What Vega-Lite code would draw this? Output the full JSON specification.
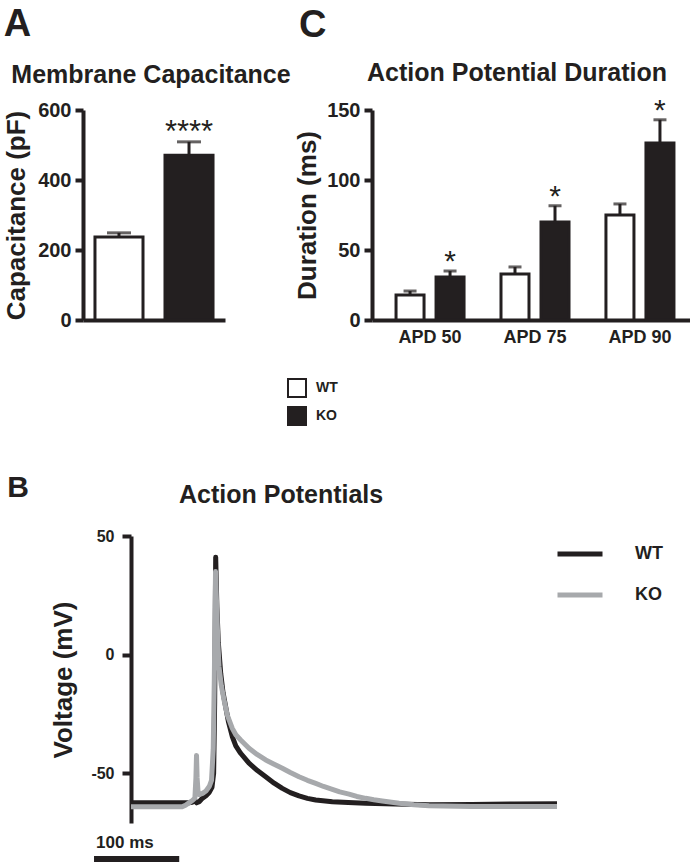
{
 "$schema": "https://vega.github.io/schema/vega-lite/v6.json",
 "background": "white",
 "padding": {"left": 3, "top": 6, "right": 0, "bottom": 0},
 "config": {
  "font": "Liberation Sans",
  "view": {"stroke": null},
  "axis": {"grid": false, "domainColor": "#231f20", "domainWidth": 4, "tickColor": "#231f20", "tickWidth": 4, "tickSize": 8, "labelColor": "#231f20", "labelFontWeight": "bold", "titleColor": "#231f20", "titleFontWeight": "bold", "labelFont": "Liberation Sans", "titleFont": "Liberation Sans"},
  "title": {"font": "Liberation Sans", "fontWeight": "bold", "color": "#231f20", "baseline": "alphabetic"},
  "legend": {"labelFont": "Liberation Sans", "labelFontWeight": "bold", "labelColor": "#231f20"}
 },
 "spacing": 44,
 "resolve": {"scale": {"color": "independent", "fill": "independent"}, "legend": {"color": "independent", "fill": "independent"}},
 "vconcat": [
  {
   "hconcat": [
    {
     "title": {"text": "A", "fontSize": 38, "anchor": "start", "offset": 19},
     "resolve": {"scale": {"fill": "independent"}, "legend": {"fill": "independent"}},
     "vconcat": [{
      "title": {"text": "Membrane Capacitance", "fontSize": 25, "anchor": "middle", "frame": "group", "dx": -3, "offset": 12},
      "width": 142, "height": 210,
      "data": {"values": [
       {"genotype": "WT", "mean": 237, "upper": 249, "star": ""},
       {"genotype": "KO", "mean": 471, "upper": 509, "star": "****"}
      ]},
      "encoding": {
       "x": {"field": "genotype", "type": "nominal", "sort": ["WT", "KO"], "scale": {"paddingInner": 0.314, "paddingOuter": 0.171}, "axis": {"labels": false, "ticks": false, "title": null}}
      },
      "layer": [
       {"mark": {"type": "bar", "stroke": "#231f20", "strokeWidth": 3},
        "encoding": {
         "y": {"field": "mean", "type": "quantitative", "scale": {"domain": [0, 600], "nice": false}, "axis": {"values": [0, 200, 400, 600], "title": "Capacitance (pF)", "labelFontSize": 20, "titleFontSize": 26, "labelPadding": 4, "titlePadding": 8}},
         "fill": {"field": "genotype", "type": "nominal", "scale": {"domain": ["WT", "KO"], "range": ["#ffffff", "#231f20"]}, "legend": null}
        }},
       {"mark": {"type": "rule", "color": "#231f20", "strokeWidth": 3},
        "encoding": {"y": {"field": "mean", "type": "quantitative"}, "y2": {"field": "upper"}}},
       {"mark": {"type": "tick", "orient": "horizontal", "color": "#231f20", "size": 24, "thickness": 3},
        "encoding": {"y": {"field": "upper", "type": "quantitative"}}},
       {"mark": {"type": "text", "fontSize": 31, "baseline": "alphabetic", "color": "#231f20", "font": "Liberation Sans"},
        "encoding": {"y": {"field": "upper", "type": "quantitative"}, "text": {"field": "star"}}}
      ]
     }]
    },
    {
     "title": {"text": "C", "fontSize": 38, "anchor": "start", "offset": 16, "dx": 12},
     "resolve": {"scale": {"fill": "independent"}, "legend": {"fill": "independent"}},
     "vconcat": [{
      "title": {"text": "Action Potential Duration", "fontSize": 25, "anchor": "middle", "frame": "group", "dx": -18, "offset": 10},
      "width": 326, "height": 210,
      "data": {"values": [
       {"apd": "APD 50", "genotype": "WT", "mean": 17.9, "upper": 20.7, "star": ""},
       {"apd": "APD 50", "genotype": "KO", "mean": 30.7, "upper": 35, "star": "*"},
       {"apd": "APD 75", "genotype": "WT", "mean": 32.9, "upper": 37.9, "star": ""},
       {"apd": "APD 75", "genotype": "KO", "mean": 70, "upper": 81.6, "star": "*"},
       {"apd": "APD 90", "genotype": "WT", "mean": 75, "upper": 82.9, "star": ""},
       {"apd": "APD 90", "genotype": "KO", "mean": 126.4, "upper": 143, "star": "*"}
      ]},
      "encoding": {
       "x": {"field": "apd", "type": "nominal", "sort": ["APD 50", "APD 75", "APD 90"], "scale": {"paddingInner": 0.352, "paddingOuter": 0.229}, "axis": {"title": null, "ticks": false, "tickSize": 0, "labelAngle": 0, "labelFontSize": 18, "labelPadding": 8}},
       "xOffset": {"field": "genotype", "type": "nominal", "sort": ["WT", "KO"], "scale": {"paddingInner": 0.3, "paddingOuter": 0}}
      },
      "layer": [
       {"mark": {"type": "bar", "stroke": "#231f20", "strokeWidth": 3},
        "encoding": {
         "y": {"field": "mean", "type": "quantitative", "scale": {"domain": [0, 150], "nice": false}, "axis": {"values": [0, 50, 100, 150], "title": "Duration (ms)", "labelFontSize": 20, "titleFontSize": 26, "labelPadding": 4, "titlePadding": 6}},
         "fill": {"field": "genotype", "type": "nominal", "scale": {"domain": ["WT", "KO"], "range": ["#ffffff", "#231f20"]},
          "legend": {"orient": "none", "legendX": -85, "legendY": 268, "title": null, "direction": "vertical", "symbolType": "square", "symbolSize": 324, "symbolStrokeColor": "#231f20", "symbolStrokeWidth": 2, "labelFontSize": 14, "labelOffset": 9, "rowPadding": 2, "padding": 0}}
        }},
       {"mark": {"type": "rule", "color": "#231f20", "strokeWidth": 3},
        "encoding": {"y": {"field": "mean", "type": "quantitative"}, "y2": {"field": "upper"}}},
       {"mark": {"type": "tick", "orient": "horizontal", "color": "#231f20", "size": 13, "thickness": 3},
        "encoding": {"y": {"field": "upper", "type": "quantitative"}}},
       {"mark": {"type": "text", "fontSize": 30, "baseline": "alphabetic", "color": "#231f20", "font": "Liberation Sans"},
        "encoding": {"y": {"field": "upper", "type": "quantitative"}, "text": {"field": "star"}}}
      ]
     }]
    }
   ],
   "spacing": -4,
   "resolve": {"scale": {"fill": "independent"}, "legend": {"fill": "independent"}}
  },
  {
   "spacing": -77,
   "resolve": {"scale": {"color": "independent"}, "legend": {"color": "independent"}},
   "hconcat": [
    {"width": 1, "height": 1, "data": {"values": []}, "mark": "point"},
    {
     "title": {"text": "B", "fontSize": 30, "orient": "left", "angle": 0, "anchor": "end", "align": "left", "baseline": "top", "offset": 22, "dy": -10},
     "resolve": {"scale": {"color": "independent"}, "legend": {"color": "independent"}},
     "vconcat": [{
      "title": {"text": "Action Potentials", "fontSize": 25, "anchor": "start", "frame": "group", "dx": 48, "offset": 20},
      "width": 426, "height": 287,
      "layer": [
       {
        "data": {"values": [
         {"genotype": "WT", "t": 0, "v": -62.5}, {"genotype": "WT", "t": 60, "v": -62.5}, {"genotype": "WT", "t": 68, "v": -62.5},
         {"genotype": "WT", "t": 72, "v": -62.3}, {"genotype": "WT", "t": 75, "v": -61.5}, {"genotype": "WT", "t": 77, "v": -62.5},
         {"genotype": "WT", "t": 80, "v": -62}, {"genotype": "WT", "t": 84, "v": -60.5}, {"genotype": "WT", "t": 88, "v": -59.5},
         {"genotype": "WT", "t": 92, "v": -58}, {"genotype": "WT", "t": 95, "v": -56}, {"genotype": "WT", "t": 97, "v": -50},
         {"genotype": "WT", "t": 98.2, "v": -20}, {"genotype": "WT", "t": 99.4, "v": 41}, {"genotype": "WT", "t": 100.8, "v": 20},
         {"genotype": "WT", "t": 102.5, "v": 5}, {"genotype": "WT", "t": 105.3, "v": -7.9}, {"genotype": "WT", "t": 108, "v": -16},
         {"genotype": "WT", "t": 111.1, "v": -22}, {"genotype": "WT", "t": 114.5, "v": -28.5}, {"genotype": "WT", "t": 118.9, "v": -34.6},
         {"genotype": "WT", "t": 123, "v": -38.5}, {"genotype": "WT", "t": 128.7, "v": -41.6}, {"genotype": "WT", "t": 138.5, "v": -45.8},
         {"genotype": "WT", "t": 148, "v": -48.8}, {"genotype": "WT", "t": 158.1, "v": -51.5}, {"genotype": "WT", "t": 168, "v": -54.2},
         {"genotype": "WT", "t": 177.6, "v": -56.4}, {"genotype": "WT", "t": 187, "v": -58.2}, {"genotype": "WT", "t": 197.2, "v": -59.6},
         {"genotype": "WT", "t": 207, "v": -60.6}, {"genotype": "WT", "t": 216.8, "v": -61.3}, {"genotype": "WT", "t": 236.3, "v": -62.0},
         {"genotype": "WT", "t": 255, "v": -62.4}, {"genotype": "WT", "t": 275.5, "v": -62.7}, {"genotype": "WT", "t": 310, "v": -63.0},
         {"genotype": "WT", "t": 349.8, "v": -63.3}, {"genotype": "WT", "t": 400, "v": -63.2}, {"genotype": "WT", "t": 450, "v": -63.0},
         {"genotype": "WT", "t": 500, "v": -62.9}
        ]},
        "mark": {"type": "line", "strokeWidth": 5, "strokeJoin": "round"},
        "encoding": {
         "x": {"field": "t", "type": "quantitative", "scale": {"domain": [0, 500], "nice": false}, "axis": null},
         "y": {"field": "v", "type": "quantitative", "scale": {"domain": [-71, 50], "nice": false}, "axis": {"values": [-50, 0, 50], "labelExpr": "datum.value < 0 ? '-' + abs(datum.value) : datum.label", "title": "Voltage (mV)", "labelFontSize": 16, "titleFontSize": 26, "tickSize": 9, "labelPadding": 8, "titlePadding": 14}},
         "color": {"field": "genotype", "type": "nominal", "scale": {"domain": ["WT", "KO"], "range": ["#231f20", "#a7a9ac"]},
          "legend": {"orient": "none", "legendX": 424, "legendY": -7, "title": null, "direction": "vertical", "symbolType": "stroke", "symbolStrokeWidth": 5, "symbolSize": 2025, "labelFontSize": 18, "labelOffset": 30, "rowPadding": 6, "padding": 0}}
        }
       },
       {
        "data": {"values": [
         {"genotype": "KO", "t": 0, "v": -64.2}, {"genotype": "KO", "t": 60, "v": -64.2}, {"genotype": "KO", "t": 64, "v": -63.5},
         {"genotype": "KO", "t": 68, "v": -62.5}, {"genotype": "KO", "t": 72, "v": -61.5}, {"genotype": "KO", "t": 75, "v": -60.5},
         {"genotype": "KO", "t": 76.2, "v": -52}, {"genotype": "KO", "t": 76.9, "v": -42.5}, {"genotype": "KO", "t": 77.6, "v": -52},
         {"genotype": "KO", "t": 78.8, "v": -58.5}, {"genotype": "KO", "t": 80, "v": -59}, {"genotype": "KO", "t": 84, "v": -58.5},
         {"genotype": "KO", "t": 88, "v": -57.5}, {"genotype": "KO", "t": 92, "v": -55.5}, {"genotype": "KO", "t": 94.5, "v": -53},
         {"genotype": "KO", "t": 96.5, "v": -40}, {"genotype": "KO", "t": 97.8, "v": -10}, {"genotype": "KO", "t": 99.2, "v": 35},
         {"genotype": "KO", "t": 100.6, "v": 20}, {"genotype": "KO", "t": 102, "v": 5}, {"genotype": "KO", "t": 103.3, "v": -5.1},
         {"genotype": "KO", "t": 106, "v": -13}, {"genotype": "KO", "t": 109.2, "v": -19.1}, {"genotype": "KO", "t": 113, "v": -25.5},
         {"genotype": "KO", "t": 118.9, "v": -31.1}, {"genotype": "KO", "t": 123, "v": -33.8}, {"genotype": "KO", "t": 128.7, "v": -36.0},
         {"genotype": "KO", "t": 138.5, "v": -39.5}, {"genotype": "KO", "t": 148, "v": -42.1}, {"genotype": "KO", "t": 158.1, "v": -44.4},
         {"genotype": "KO", "t": 168, "v": -46.2}, {"genotype": "KO", "t": 177.6, "v": -47.9}, {"genotype": "KO", "t": 187, "v": -49.7},
         {"genotype": "KO", "t": 197.2, "v": -51.5}, {"genotype": "KO", "t": 207, "v": -53.0}, {"genotype": "KO", "t": 216.8, "v": -54.3},
         {"genotype": "KO", "t": 226, "v": -55.6}, {"genotype": "KO", "t": 236.3, "v": -56.8}, {"genotype": "KO", "t": 245, "v": -57.9},
         {"genotype": "KO", "t": 255.9, "v": -58.8}, {"genotype": "KO", "t": 265, "v": -59.8}, {"genotype": "KO", "t": 275.5, "v": -60.6},
         {"genotype": "KO", "t": 285, "v": -61.2}, {"genotype": "KO", "t": 295, "v": -61.7}, {"genotype": "KO", "t": 314.6, "v": -62.7},
         {"genotype": "KO", "t": 332, "v": -63.3}, {"genotype": "KO", "t": 349.8, "v": -63.7}, {"genotype": "KO", "t": 400, "v": -64.0},
         {"genotype": "KO", "t": 450, "v": -64.0}, {"genotype": "KO", "t": 500, "v": -64.0}
        ]},
        "mark": {"type": "line", "strokeWidth": 5, "strokeJoin": "round"},
        "encoding": {
         "x": {"field": "t", "type": "quantitative"},
         "y": {"field": "v", "type": "quantitative"},
         "color": {"field": "genotype", "type": "nominal"}
        }
       },
       {
        "data": {"values": [{"start": -43.4, "end": 56.6, "v": -86.2}]},
        "mark": {"type": "rule", "strokeWidth": 6, "color": "#231f20"},
        "encoding": {"x": {"field": "start", "type": "quantitative"}, "x2": {"field": "end"}, "y": {"field": "v", "type": "quantitative"}}
       },
       {
        "data": {"values": [{"t": -41, "v": -79.4, "label": "100 ms"}]},
        "mark": {"type": "text", "align": "left", "baseline": "middle", "fontSize": 17, "fontWeight": "bold", "color": "#231f20", "font": "Liberation Sans"},
        "encoding": {"x": {"field": "t", "type": "quantitative"}, "y": {"field": "v", "type": "quantitative"}, "text": {"field": "label"}}
       }
      ]
     }]
    }
   ]
  }
 ]
}
